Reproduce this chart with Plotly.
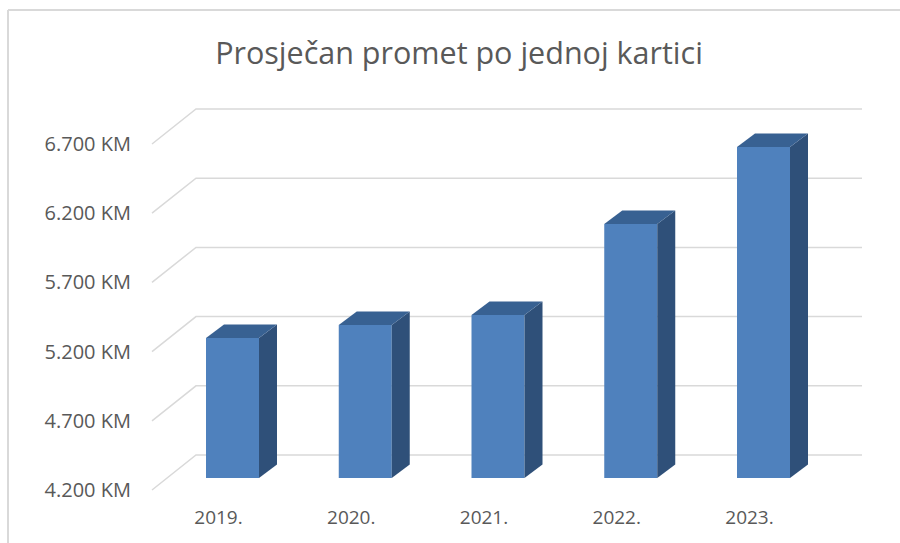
import plotly.graph_objects as go

categories = ["2019.", "2020.", "2021.", "2022.", "2023."]
values = [5211, 5305, 5378, 6035, 6591]
tick_values = [4200, 4700, 5200, 5700, 6200, 6700]
title_text = "Prosječan promet po jednoj kartici"

W, H = 900, 543
L, R, T, B = 132, 884, 60, 504      # plot box, pixels
BAR0, STEP, BAR_W = 232.5, 132.75, 53
KX = 1 / STEP
KY = 69.2 / 500                     # pixels per value unit
FRONT_Y, BAR_Y = 490, 478           # pixel of 4200 on the label plane / bar plane
WALL_DY = 35
WALL_X = (196 - BAR0) * KX
FRONT_X = (152 - BAR0) * KX
END_X = (862 - BAR0) * KX
DEPTH_X = 18 * KX
DEPTH_Y = 13.5 / KY
HALF = BAR_W * KX / 2


def yrange(p0):
    return [4200 - (B - p0) / KY, 4200 + (p0 - T) / KY]


positions = list(range(len(categories)))
tick_text = [f"{t:,}".replace(",", ".") + " KM" for t in tick_values]
fig = go.Figure()

# floor-to-wall gridlines
gx, gy = [], []
for t in tick_values:
    up = t + WALL_DY / KY
    gx += [FRONT_X, WALL_X, END_X, None]
    gy += [t, up, up, None]
fig.add_trace(go.Scatter(x=gx, y=gy, mode="lines", yaxis="y", hoverinfo="skip",
                         line=dict(color="#d9d9d9", width=1.5), showlegend=False))

# bar fronts
fig.add_trace(go.Bar(x=positions, y=[v - 4200 for v in values], base=4200, width=BAR_W * KX,
                     yaxis="y2", marker=dict(color="#4f81bd", line=dict(width=0)),
                     showlegend=False))

# bar sides and tops
for p, v in zip(positions, values):
    r = p + HALF
    l = p - HALF
    fig.add_trace(go.Scatter(x=[r, r + DEPTH_X, r + DEPTH_X, r, r],
                             y=[4200, 4200 + DEPTH_Y, v + DEPTH_Y, v, 4200],
                             yaxis="y2", mode="lines", fill="toself", fillcolor="#2f5079",
                             line=dict(width=0), showlegend=False, hoverinfo="skip"))
    fig.add_trace(go.Scatter(x=[l, l + DEPTH_X, r + DEPTH_X, r, l],
                             y=[v, v + DEPTH_Y, v + DEPTH_Y, v, v],
                             yaxis="y2", mode="lines", fill="toself", fillcolor="#386192",
                             line=dict(width=0), showlegend=False, hoverinfo="skip"))

fig.update_layout(
    width=W, height=H, margin=dict(l=0, r=0, t=0, b=0),
    paper_bgcolor="white", plot_bgcolor="white", showlegend=False,
    title=dict(text=title_text, x=459 / W, xanchor="center", y=1 - 53 / H, yanchor="middle",
               font=dict(family="Open Sans", size=30.5, color="#595959")),
    xaxis=dict(domain=[L / W, R / W], range=[(L - BAR0) * KX, (R - BAR0) * KX],
               tickmode="array", tickvals=[p - 14 * KX for p in positions], ticktext=categories,
               showgrid=False, zeroline=False, showline=False, ticks="",
               tickfont=dict(family="Open Sans", size=19, color="#595959")),
    yaxis=dict(domain=[1 - B / H, 1 - T / H], range=yrange(FRONT_Y),
               tickmode="array", tickvals=tick_values, ticktext=tick_text,
               showgrid=False, zeroline=False, showline=False, ticks="",
               tickfont=dict(family="Open Sans", size=20, color="#595959")),
    yaxis2=dict(domain=[1 - B / H, 1 - T / H], range=yrange(BAR_Y), overlaying="y",
                visible=False),
    shapes=[
        dict(type="line", xref="paper", yref="paper", x0=8 / W, x1=8 / W, y0=0, y1=1 - 10 / H,
             line=dict(color="#d9d9d9", width=2)),
        dict(type="line", xref="paper", yref="paper", x0=8 / W, x1=1, y0=1 - 10 / H, y1=1 - 10 / H,
             line=dict(color="#d9d9d9", width=2)),
    ],
)
fig.write_html("out.html", config={"displayModeBar": False},
               post_script="document.body.style.margin='0';")
